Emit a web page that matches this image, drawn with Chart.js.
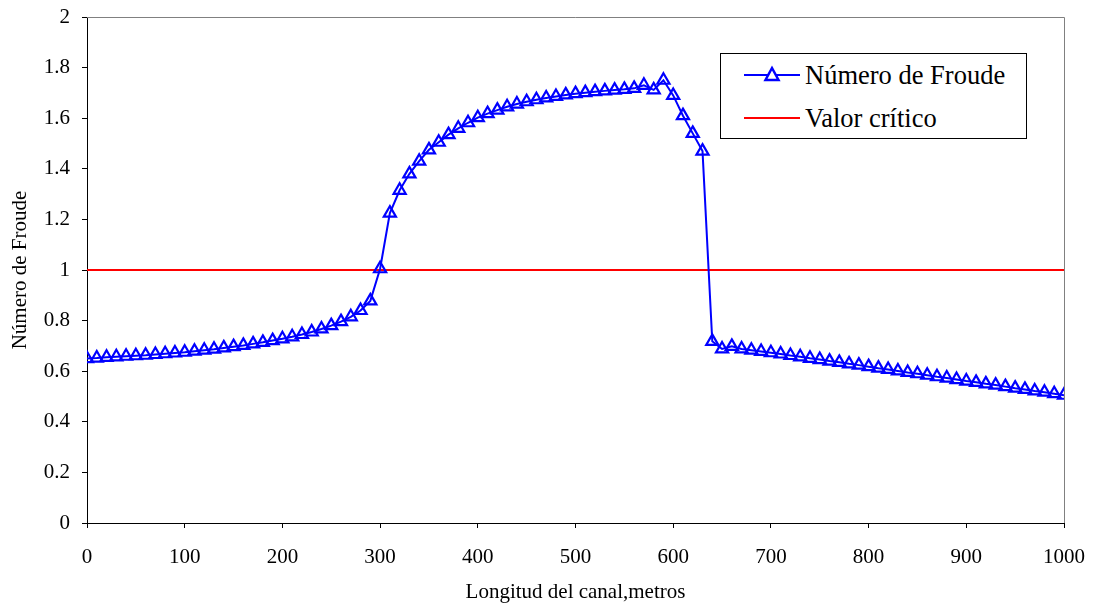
<!DOCTYPE html>
<html>
<head>
<meta charset="utf-8">
<script src="https://cdn.jsdelivr.net/npm/chart.js@4/dist/chart.umd.min.js"></script>
<style>
html, body { margin: 0; padding: 0; background: #fff; }
#contenedor { position: relative; width: 1093px; height: 609px; }
#leyenda { position: absolute; left: 720px; top: 53px; width: 305px; height: 84px; border: 1px solid #000; background: #fff; font-family: "Liberation Serif", serif; font-size: 26.5px; color: #000; }
.item { position: absolute; left: 22px; height: 30px; white-space: nowrap; }
.item svg { position: absolute; left: 0; top: 0; }
.item span { position: absolute; left: 62px; top: 0; line-height: 30px; }
</style>
</head>
<body>
<div id="contenedor">
  <canvas id="myChart" width="1093" height="609"></canvas>
  <div id="leyenda">
    <div class="item" style="top:6px">
      <svg width="60" height="30"><line x1="1" y1="15" x2="57" y2="15" stroke="#0000ff" stroke-width="2"/><polygon points="29,8 35.5,20 22.5,20" fill="#fff" stroke="#0000ff" stroke-width="2.5"/></svg>
      <span>Número de Froude</span>
    </div>
    <div class="item" style="top:49px">
      <svg width="60" height="30"><line x1="1" y1="15" x2="57" y2="15" stroke="#ff0000" stroke-width="2"/></svg>
      <span>Valor crítico</span>
    </div>
  </div>
</div>
<script>
//DATOS
const longitud = [
  0, 10, 20, 30, 40, 50, 60, 70, 80, 90,
  100, 110, 120, 130, 140, 150, 160, 170, 180, 190,
  200, 210, 220, 230, 240, 250, 260, 270, 280, 290,
  300, 310, 320, 330, 340, 350, 360, 370, 380, 390,
  400, 410, 420, 430, 440, 450, 460, 470, 480, 490,
  500, 510, 520, 530, 540, 550, 560, 570, 580, 590,
  600, 610, 620, 630, 640, 650, 660, 670, 680, 690,
  700, 710, 720, 730, 740, 750, 760, 770, 780, 790,
  800, 810, 820, 830, 840, 850, 860, 870, 880, 890,
  900, 910, 920, 930, 940, 950, 960, 970, 980, 990,
  1000
];
const froude = [
  0.650, 0.652, 0.655, 0.657, 0.659, 0.661, 0.663, 0.666, 0.669, 0.672,
  0.675, 0.679, 0.683, 0.687, 0.692, 0.697, 0.702, 0.708, 0.714, 0.721,
  0.728, 0.736, 0.745, 0.755, 0.767, 0.780, 0.796, 0.815, 0.840, 0.878,
  1.005, 1.225, 1.315, 1.380, 1.430, 1.475, 1.505, 1.535, 1.560, 1.582,
  1.602, 1.618, 1.632, 1.645, 1.656, 1.665, 1.673, 1.680, 1.686, 1.692,
  1.697, 1.701, 1.705, 1.708, 1.711, 1.714, 1.718, 1.730, 1.712, 1.750,
  1.690, 1.610, 1.540, 1.470, 0.718, 0.688, 0.698, 0.688, 0.683, 0.678,
  0.673, 0.668, 0.662, 0.657, 0.651, 0.646, 0.640, 0.635, 0.629, 0.624,
  0.618, 0.612, 0.607, 0.601, 0.595, 0.590, 0.584, 0.578, 0.573, 0.567,
  0.561, 0.556, 0.550, 0.545, 0.539, 0.533, 0.528, 0.522, 0.517, 0.511,
  0.505
];
const criticoX = [0, 1000];
const criticoY = [1, 1];

//PLUGIN marco gris del area de trazado
const marcoGris = {
  id: "marcoGris",
  beforeDatasetsDraw(chart) {
    const a = chart.chartArea;
    const ctx = chart.ctx;
    ctx.save();
    ctx.strokeStyle = "#808080";
    ctx.lineWidth = 1;
    ctx.beginPath();
    ctx.moveTo(a.left, a.top + 0.5);
    ctx.lineTo(a.right + 0.5, a.top + 0.5);
    ctx.lineTo(a.right + 0.5, a.bottom);
    ctx.stroke();
    ctx.restore();
  },
};

const fuente = { family: "'Liberation Serif', serif", size: 21 };

const data = {
  datasets: [
    {
      label: "Número de Froude",
      data: longitud.map((x, i) => ({ x: x, y: froude[i] })),
      borderColor: "#0000ff",
      backgroundColor: "#ffffff",
      borderWidth: 2,
      pointStyle: "triangle",
      pointRadius: 7,
      pointBorderWidth: 2.2,
      pointBorderColor: "#0000ff",
      pointBackgroundColor: "rgba(255,255,255,0)",
      tension: 0,
    },
    {
      label: "Valor crítico",
      data: criticoX.map((x, i) => ({ x: x, y: criticoY[i] })),
      borderColor: "#ff0000",
      borderWidth: 2,
      pointRadius: 0,
    },
  ],
};

const config = {
  type: "line",
  data: data,
  plugins: [marcoGris],
  options: {
    responsive: false,
    animation: false,
    layout: { padding: { top: 17, right: 29, left: 0, bottom: 0 } },
    plugins: {
      legend: { display: false },
      tooltip: { enabled: false },
    },
    scales: {
      x: {
        type: "linear",
        min: 0,
        max: 1000,
        ticks: { stepSize: 100, color: "#000", font: fuente, padding: 17, maxRotation: 0, callback: (v) => String(v) },
        grid: { drawOnChartArea: false, drawTicks: true, tickLength: 5, color: "#000" },
        border: { color: "#000", width: 1 },
        title: { display: true, text: "Longitud del canal,metros", color: "#000", font: { family: fuente.family, size: 21 }, padding: { top: 0, bottom: 4 } },
        afterFit(scale) {
          scale.height = 86;
          scale.paddingLeft = 0;
          scale.paddingRight = 0;
        },
      },
      y: {
        min: 0,
        max: 2,
        ticks: { stepSize: 0.2, color: "#000", font: fuente, padding: 12, callback: (v) => String(+v.toFixed(1)) },
        grid: { drawOnChartArea: false, drawTicks: true, tickLength: 5, color: "#000" },
        border: { color: "#000", width: 1 },
        title: { display: true, text: "Número de Froude", color: "#000", font: { family: fuente.family, size: 21 }, padding: { top: 8, bottom: 0 } },
        afterFit(scale) {
          scale.width = 87;
          scale.paddingTop = 0;
          scale.paddingBottom = 0;
        },
      },
    },
  },
};
const myChart = new Chart(document.getElementById("myChart"), config);
</script>
</body>
</html>
